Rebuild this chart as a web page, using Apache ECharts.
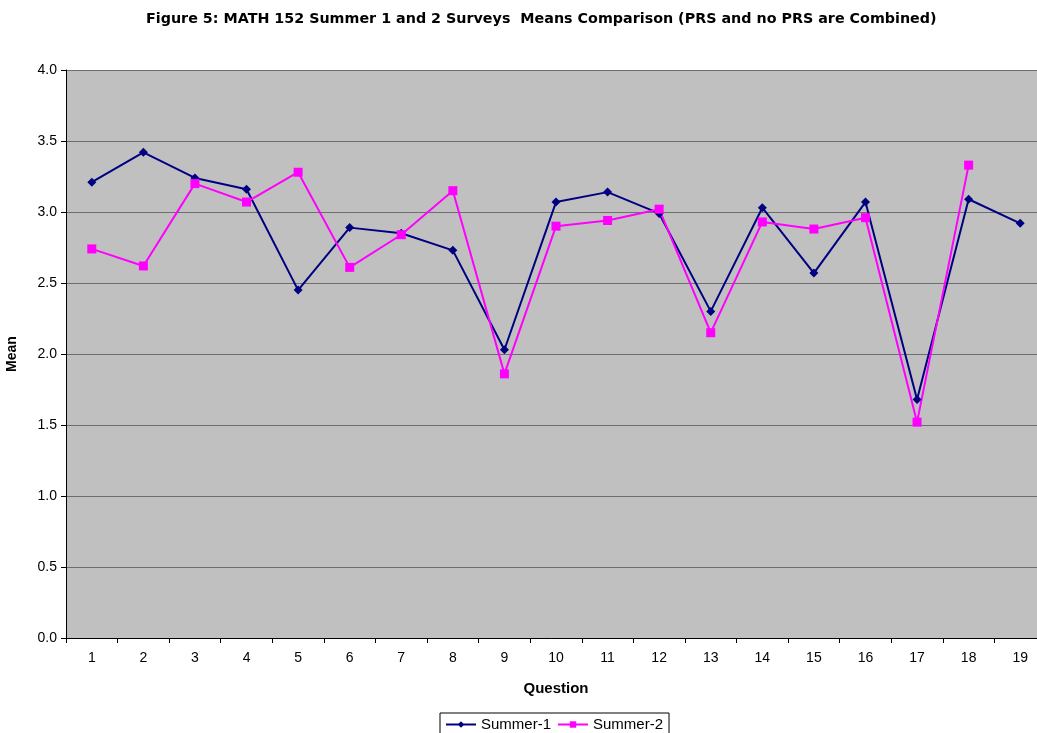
<!DOCTYPE html>
<html>
<head>
<meta charset="utf-8">
<script src="https://cdn.jsdelivr.net/npm/echarts@6/dist/echarts.min.js"></script>
<style>
html,body{margin:0;padding:0;background:#fff}
#main{width:1037px;height:733px}
</style>
</head>
<body>
<div id="main"></div>
<script>
var questions = ['1','2','3','4','5','6','7','8','9','10','11','12','13','14','15','16','17','18','19'];
var summer1 = [3.21, 3.42, 3.24, 3.16, 2.45, 2.89, 2.85, 2.73, 2.03, 3.07, 3.14, 2.99, 2.30, 3.03, 2.57, 3.07, 1.68, 3.09, 2.92];
var summer2 = [2.74, 2.62, 3.20, 3.07, 3.28, 2.61, 2.84, 3.15, 1.86, 2.90, 2.94, 3.02, 2.15, 2.93, 2.88, 2.96, 1.52, 3.33, null];

var font = 'Liberation Sans, Arial, sans-serif';
var myChart = echarts.init(document.getElementById('main'));
myChart.setOption({
    animation: false,
    title: {
        text: 'Figure 5: MATH 152 Summer 1 and 2 Surveys  Means Comparison (PRS and no PRS are Combined)',
        left: 141,
        top: 7,
        textStyle: {fontFamily: 'DejaVu Sans', fontSize: 14.3, fontWeight: 'bold', color: '#000'}
    },
    legend: {
        top: 713,
        left: 440,
        borderColor: '#000',
        borderWidth: 1,
        borderRadius: 0,
        padding: [4, 6, 8, 5],
        itemWidth: 30,
        itemHeight: 8,
        itemGap: 6,
        textStyle: {fontFamily: font, fontSize: 15, color: '#000'},
        data: ['Summer-1', 'Summer-2']
    },
    grid: {left: 66, right: -9, top: 70, bottom: 95, containLabel: false,
        outerBoundsMode: 'none',
        show: true, backgroundColor: '#c0c0c0', borderWidth: 0},
    xAxis: {
        type: 'category',
        data: questions,
        boundaryGap: true,
        name: 'Question',
        nameLocation: 'middle',
        nameGap: 43,
        nameTextStyle: {fontFamily: font, fontSize: 15, fontWeight: 'bold', color: '#000'},
        axisLine: {lineStyle: {color: '#000', width: 1}},
        axisTick: {show: true, length: 5, lineStyle: {color: '#000'}},
        axisLabel: {fontFamily: font, fontSize: 14, color: '#000', margin: 13}
    },
    yAxis: {
        type: 'value',
        min: 0, max: 4, interval: 0.5,
        name: 'Mean',
        nameLocation: 'middle',
        nameGap: 47,
        nameRotate: 90,
        nameTextStyle: {fontFamily: font, fontSize: 14, fontWeight: 'bold', color: '#000'},
        axisLine: {show: true, lineStyle: {color: '#000', width: 1}},
        axisTick: {show: true, length: 5, lineStyle: {color: '#000'}},
        axisLabel: {fontFamily: font, fontSize: 14, color: '#000', margin: 9,
            formatter: function (v) { return v.toFixed(1); }},
        splitLine: {show: true, lineStyle: {color: '#6e6e6e', width: 1}}
    },
    series: [
        {
            name: 'Summer-1',
            type: 'line',
            data: summer1,
            symbol: 'diamond',
            symbolSize: 9,
            itemStyle: {color: '#000080'},
            lineStyle: {color: '#000080', width: 2}
        },
        {
            name: 'Summer-2',
            type: 'line',
            data: summer2,
            symbol: 'rect',
            symbolSize: 9,
            itemStyle: {color: '#ff00ff'},
            lineStyle: {color: '#ff00ff', width: 2}
        }
    ]
});
</script>
</body>
</html>
